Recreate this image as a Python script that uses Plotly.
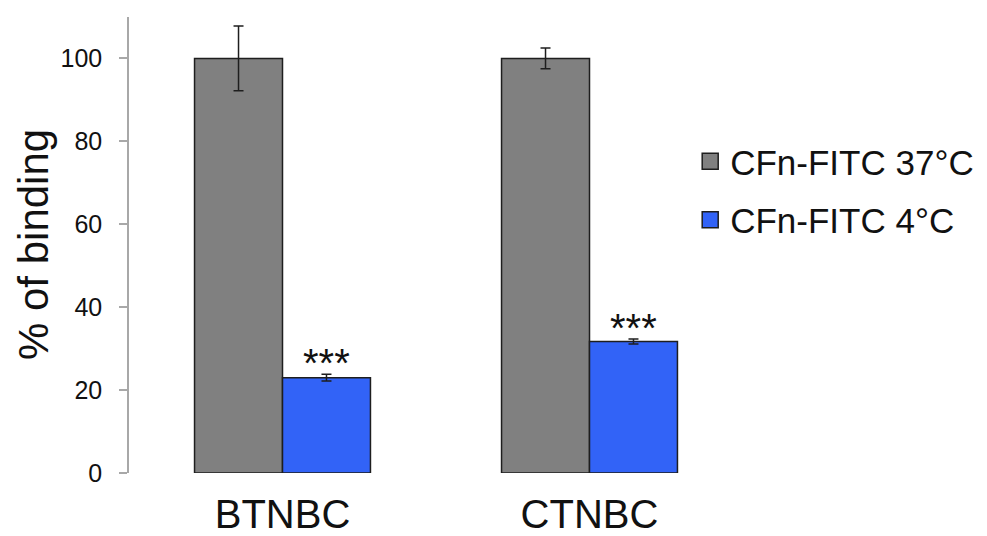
import plotly.graph_objects as go

categories = ["BTNBC", "CTNBC"]
series_names = ["CFn-FITC 37°C", "CFn-FITC 4°C"]
values_37 = [100.0, 100.0]
errors_37 = [7.8, 2.5]
values_4 = [23.0, 31.7]
errors_4 = [0.8, 0.6]
significance = ["***", "***"]
y_ticks = [0, 20, 40, 60, 80, 100]

FONT = "Liberation Sans, Arial, Helvetica, sans-serif"
GRAY = "#808080"
BLUE = "#3263F7"
EDGE = "#1e1e1e"
TXT = "#111111"

L, T, PW, PH = 121, 9, 614, 456

fig = go.Figure()
fig.add_trace(go.Bar(
    x=categories, y=values_37, name=series_names[0], showlegend=False,
    marker=dict(color=GRAY, line=dict(color=EDGE, width=1.5)),
    error_y=dict(type="data", array=errors_37, color=EDGE, thickness=1.5, width=5),
))
fig.add_trace(go.Bar(
    x=categories, y=values_4, name=series_names[1], showlegend=False,
    marker=dict(color=BLUE, line=dict(color=EDGE, width=1.5)),
    error_y=dict(type="data", array=errors_4, color=EDGE, thickness=1.5, width=5),
))
# legend entries with larger square swatches
for name, col, grp in [(series_names[0], GRAY, "a"), (series_names[1], BLUE, "b")]:
    fig.add_trace(go.Scatter(
        x=[None], y=[None], mode="markers", name=name, legendgroup=grp,
        marker=dict(symbol="square", size=16, color=col, line=dict(color=EDGE, width=1.5)),
    ))

for i, cat in enumerate(categories):
    fig.add_annotation(
        x=cat, y=values_4[i] + errors_4[i], text=significance[i],
        xshift=44, yshift=-13, yanchor="bottom", showarrow=False,
        font=dict(family=FONT, size=40, color=TXT),
    )

fig.add_annotation(
    text="% of binding", xref="paper", yref="paper",
    x=(25 - L) / PW, y=0.5, xanchor="center", yanchor="middle",
    textangle=-90, showarrow=False,
    font=dict(family=FONT, size=42, color=TXT),
)

fig.update_layout(
    width=987, height=536,
    margin=dict(l=L, r=987 - L - PW, t=T, b=536 - T - PH),
    paper_bgcolor="white", plot_bgcolor="white",
    barmode="group", bargap=0.427, bargroupgap=0,
    font=dict(family=FONT, color=TXT),
    showlegend=True,
    legend=dict(
        x=0.914, y=0.748, xanchor="left", yanchor="top",
        font=dict(family=FONT, size=35, color=TXT),
        tracegroupgap=10, bgcolor="rgba(0,0,0,0)",
    ),
    xaxis=dict(
        range=[-0.5, 1.5], showline=False, ticks="", showgrid=False,
        tickfont=dict(family=FONT, size=40, color=TXT),
        ticklabelstandoff=14, automargin=False,
    ),
    yaxis=dict(
        range=[0, 110], tickvals=y_ticks, showgrid=False, zeroline=False,
        showline=True, linecolor="#a8a8a8", linewidth=1.5,
        ticks="outside", ticklen=8, tickcolor="#a8a8a8", tickwidth=1.5,
        tickfont=dict(family=FONT, size=25, color=TXT),
        ticklabelstandoff=12, automargin=False,
    ),
)

fig.write_html("out.html")
